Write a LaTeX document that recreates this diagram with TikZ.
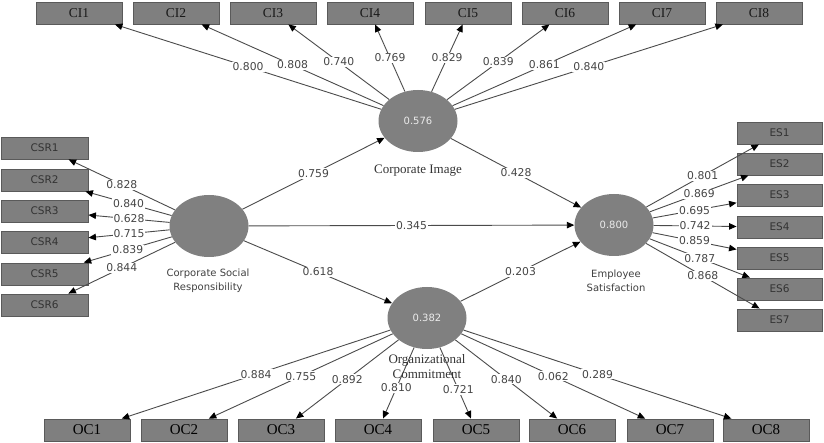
\documentclass[tikz,border=0pt]{standalone}
\usepackage{fontspec}
\setmainfont{Liberation Serif}
\newfontfamily\sansf{DejaVu Sans}
\usetikzlibrary{arrows.meta,shapes.geometric}
\definecolor{boxfill}{RGB}{127,127,127}
\definecolor{boxline}{RGB}{90,90,90}
\definecolor{latfill}{RGB}{128,128,128}
\definecolor{linec}{RGB}{75,75,75}
\definecolor{numc}{RGB}{70,70,70}
\begin{document}
\begin{tikzpicture}[x=1pt,y=-1pt,
  ind/.style={draw=boxline, fill=boxfill, minimum width=86pt, minimum height=22pt, inner sep=0pt, line width=0.9pt},
  ciind/.style={ind, font=\fontsize{13.5}{13.5}\selectfont, text=black!90},
  ocind/.style={ind, font=\fontsize{15}{15}\selectfont, text=black},
  sind/.style={ind, font=\sansf\fontsize{10.5}{10.5}\selectfont, text=black!80},
  lat/.style={ellipse, fill=latfill, minimum width=79pt, minimum height=62pt, inner sep=0pt, text=white!92!black, font=\sansf\fontsize{10}{10}\selectfont},
  ld/.style={-{Triangle[length=7.5pt,width=6.5pt,color=black]}, draw=linec, line width=0.9pt},
  lbl/.style={fill=white, inner sep=1pt, text=numc, font=\sansf\fontsize{10.8}{10.8}\selectfont},
  sanslab/.style={align=center, text=black!75, font=\sansf\fontsize{10}{14}\selectfont},
  seriflab/.style={align=center, text=black!80, font=\fontsize{13}{15}\selectfont}
]
\useasboundingbox (0,0) rectangle (824,443);

% latent variables
\node[lat] (ci) at (418,121) {0.576};
\node[lat] (csr) at (209,226) {};
\node[lat] (es) at (614,225) {0.800};
\node[lat] (oc) at (427,318) {0.382};

% indicators
\foreach \i/\x in {1/79,2/176,3/273,4/370,5/468,6/565,7/662,8/759}
  \node[ciind] (CI\i) at (\x,13) {CI\i};
\foreach \i/\y in {1/148,2/180,3/211,4/242,5/274,6/305}
  \node[sind, minimum width=87pt] (CSR\i) at (44.5,\y) {CSR\i};
\foreach \i/\y in {1/133,2/164,3/195,4/227,5/258,6/289,7/320}
  \node[sind, minimum width=85pt] (ES\i) at (779.5,\y) {ES\i};
\foreach \i/\x in {1/87,2/184,3/281,4/378,5/476,6/572,7/670,8/766}
  \node[ocind] (OC\i) at (\x,430) {OC\i};

% loadings
\foreach \i/\v in {1/0.800,2/0.808,3/0.740,4/0.769,5/0.829,6/0.839,7/0.861,8/0.840}
  \draw[ld] (ci) -- node[lbl] {\v} (CI\i);
\foreach \i/\v in {1/0.828,2/0.840,3/0.628,4/0.715,5/0.839,6/0.844}
  \draw[ld] (csr) -- node[lbl] {\v} (CSR\i);
\foreach \i/\v in {1/0.801,2/0.869,3/0.695,4/0.742,5/0.859,6/0.787,7/0.868}
  \draw[ld] (es) -- node[lbl] {\v} (ES\i);
\foreach \i/\v/\p in {1/0.884/0.5,2/0.755/0.5,3/0.892/0.5,4/0.810/0.57,5/0.721/0.59,6/0.840/0.5,7/0.062/0.5,8/0.289/0.5}
  \draw[ld] (oc) -- node[lbl, pos=\p] {\v} (OC\i);

% structural paths
\draw[ld] (csr) -- node[lbl] {0.759} (ci);
\draw[ld] (ci) -- node[lbl] {0.428} (es);
\draw[ld] (csr) -- node[lbl] {0.345} (es);
\draw[ld] (csr) -- node[lbl] {0.618} (oc);
\draw[ld] (oc) -- node[lbl] {0.203} (es);

% construct names
\node[seriflab] (cil) at (418,171) {Corporate Image};
\node[sanslab] (csrl) at (208,281) {Corporate Social\\Responsibility};
\node[sanslab] (esl) at (616,281) {Employee\\Satisfaction};
\node[seriflab] (ocl) at (427,367) {Organizational\\Commitment};
\end{tikzpicture}
\end{document}
